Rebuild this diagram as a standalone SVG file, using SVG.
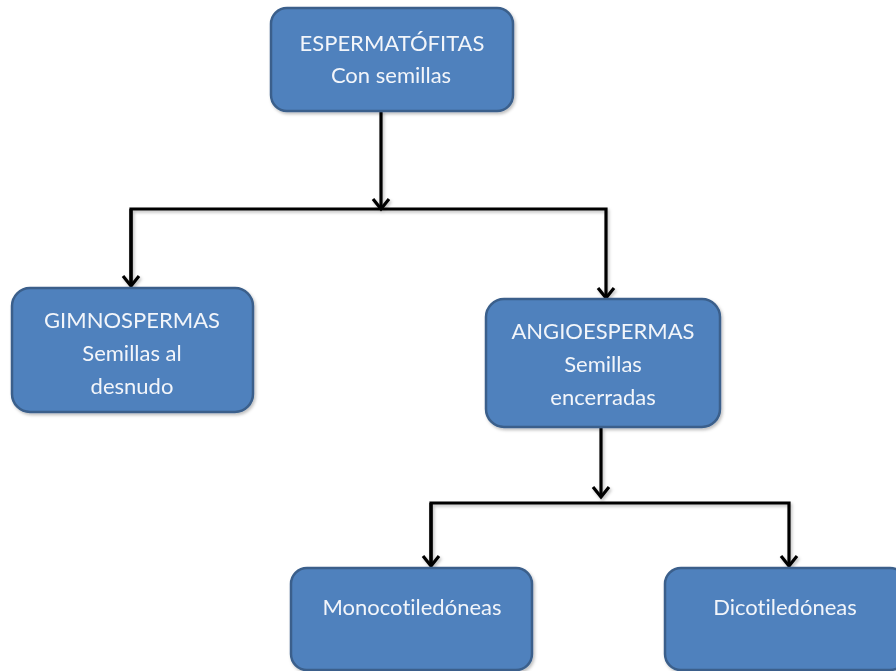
<svg xmlns="http://www.w3.org/2000/svg" width="896" height="671" viewBox="0 0 896 671">
  <defs>
    <style>
      .box { fill: #4F81BD; stroke: #3A5F8B; stroke-width: 2.5; }
      .label { font-family: Lato, "Liberation Sans", sans-serif; font-size: 22px; fill: #F2F5FA; text-anchor: middle; font-variant-ligatures: none; }
      .wire { fill: none; stroke: #000; stroke-width: 3.2; stroke-linejoin: miter; }
    </style>
    <marker id="arrow" viewBox="-14 -10 18 20" markerWidth="18" markerHeight="20" refX="0" refY="0" orient="auto" markerUnits="userSpaceOnUse">
      <path d="M-10,-8 L0,0 L-10,8" fill="none" stroke="#000" stroke-width="3.2"/>
    </marker>
    <filter id="shadow" x="-10%" y="-10%" width="130%" height="130%">
      <feDropShadow dx="1.5" dy="2" stdDeviation="1.5" flood-color="#000" flood-opacity="0.25"/>
    </filter>
  </defs>
  <rect width="896" height="671" fill="#FFFFFF"/>

  <!-- connectors -->
  <g id="connectors" filter="url(#shadow)">
    <path class="wire" d="M381,111 V209" marker-end="url(#arrow)"/>
    <path class="wire" d="M131,286 V209 H606 V298" marker-end="url(#arrow)"/>
    <path class="wire" d="M131,209 V286" marker-end="url(#arrow)"/>
    <path class="wire" d="M601,428 V497" marker-end="url(#arrow)"/>
    <path class="wire" d="M431,566 V503 H789 V566" marker-end="url(#arrow)"/>
    <path class="wire" d="M431,503 V566" marker-end="url(#arrow)"/>
  </g>

  <!-- nodes -->
  <g id="espermatofitas" filter="url(#shadow)">
    <rect class="box" x="271" y="8" width="242" height="103" rx="16"/>
    <text class="label" x="392" y="51">ESPERMATÓFITAS</text>
    <text class="label" x="391" y="83">Con semillas</text>
  </g>

  <g id="gimnospermas" filter="url(#shadow)">
    <rect class="box" x="12" y="288" width="241" height="124" rx="18"/>
    <text class="label" x="132" y="328">GIMNOSPERMAS</text>
    <text class="label" x="132" y="361">Semillas al</text>
    <text class="label" x="132" y="394">desnudo</text>
  </g>

  <g id="angiospermas" filter="url(#shadow)">
    <rect class="box" x="486" y="299" width="234" height="128" rx="18"/>
    <text class="label" x="603" y="339">ANGIOESPERMAS</text>
    <text class="label" x="603" y="372">Semillas</text>
    <text class="label" x="603" y="405">encerradas</text>
  </g>

  <g id="monocotiledoneas" filter="url(#shadow)">
    <rect class="box" x="291" y="568" width="241" height="102" rx="16"/>
    <text class="label" x="412" y="615">Monocotiledóneas</text>
  </g>

  <g id="dicotiledoneas" filter="url(#shadow)">
    <rect class="box" x="665" y="568" width="241" height="102" rx="16"/>
    <text class="label" x="785" y="615">Dicotiledóneas</text>
  </g>
</svg>
